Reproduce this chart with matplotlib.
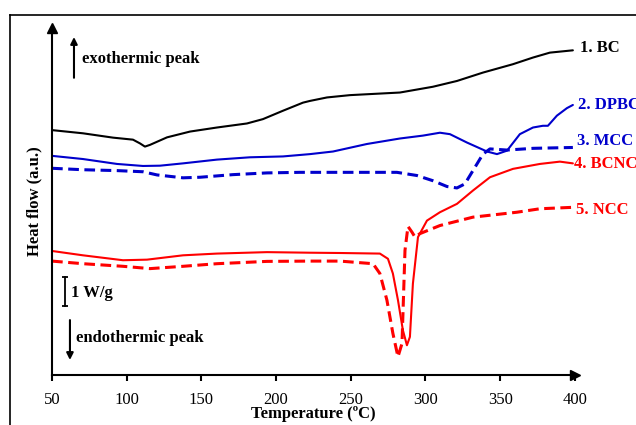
import matplotlib.pyplot as plt
from matplotlib.lines import Line2D

plt.rcParams["font.family"] = ["Liberation Serif", "DejaVu Serif"]

# temperature (degC) and heat flow (W/g, offset per curve)
bc_t = [50, 70.7, 90.8, 104.2, 108.9, 112.2, 115.6, 127.0, 142.4, 160.4, 180.5, 191.2, 204.6,
        218.0, 222.7, 234.1, 249.5, 282.9, 305.0, 321.1, 338.5, 358.6, 372.0, 383.3, 398.7]
bc_q = [8.47, 8.36, 8.21, 8.14, 8.01, 7.90, 7.96, 8.22, 8.42, 8.56, 8.70, 8.85, 9.14,
        9.42, 9.48, 9.60, 9.68, 9.77, 9.97, 10.17, 10.46, 10.75, 10.98, 11.15, 11.23]

dpbc_t = [50, 70.7, 93.5, 110.9, 122.3, 137.7, 160.4, 182.5, 204.6, 222.7, 238.1, 260.8, 282.9,
          298.3, 309.7, 316.4, 327.8, 341.2, 347.9, 354.6, 363.2, 372.0, 378.6, 382.0, 388.0,
          394.7, 398.7]
dpbc_q = [7.58, 7.47, 7.30, 7.23, 7.24, 7.32, 7.45, 7.53, 7.56, 7.64, 7.73, 7.99, 8.18,
          8.28, 8.38, 8.33, 8.04, 7.73, 7.64, 7.76, 8.33, 8.56, 8.62, 8.62, 8.97,
          9.23, 9.34]

mcc_t = [50, 70.7, 93.5, 110.9, 120.3, 137.7, 149.1, 171.1, 193.9, 216.0, 249.5, 280.9, 294.3,
         305.0, 314.4, 321.1, 326.4, 331.8, 338.5, 343.2, 354.6, 372.0, 398.7]
mcc_q = [7.15, 7.10, 7.07, 7.03, 6.92, 6.82, 6.84, 6.93, 6.99, 7.01, 7.01, 7.01, 6.90,
         6.72, 6.52, 6.47, 6.61, 7.07, 7.64, 7.82, 7.78, 7.84, 7.87]

bcnc_t = [50, 70.7, 97.5, 113.6, 137.7, 160.4, 193.9, 222.7, 242.8, 269.5, 274.9, 278.2, 281.6,
          284.9, 287.6, 289.6, 291.6, 295.0, 301.0, 309.7, 321.1, 331.8, 343.2, 358.6, 376.6,
          390.0, 398.7]
bcnc_q = [4.29, 4.14, 3.97, 3.99, 4.14, 4.20, 4.25, 4.23, 4.22, 4.20, 4.02, 3.51, 2.59,
          1.55, 1.03, 1.32, 3.16, 4.77, 5.34, 5.63, 5.92, 6.38, 6.84, 7.13, 7.30,
          7.38, 7.32]

ncc_t = [50, 70.7, 97.5, 115.6, 137.7, 160.4, 193.9, 222.7, 242.8, 264.9, 269.5, 274.2, 278.2,
         281.6, 284.3, 286.3, 288.3, 291.0, 293.0, 296.3, 309.7, 331.8, 361.2, 376.6, 398.7]
ncc_q = [3.94, 3.85, 3.76, 3.68, 3.76, 3.85, 3.93, 3.94, 3.94, 3.85, 3.51, 2.59, 1.44,
         0.63, 1.09, 4.31, 5.14, 4.94, 4.77, 4.89, 5.17, 5.46, 5.63, 5.75, 5.80]

labels = ["1. BC", "2. DPBC", "3. MCC", "4. BCNC", "5. NCC"]
xticks = [50, 100, 150, 200, 250, 300, 350, 400]

BLUE = "#0000cc"
RED = "#ff0000"

fig = plt.figure(figsize=(6.36, 4.25), dpi=100)
ax = fig.add_axes([0.0818, 0.1176, 0.822, 0.8164])

solid = dict(lw=1.5, solid_capstyle="round")
dashed = dict(lw=2.2, dashes=(3.5, 1.8))
ax.plot(bc_t, bc_q, color="black", **solid)
ax.plot(dpbc_t, dpbc_q, color=BLUE, **solid)
ax.plot(mcc_t, mcc_q, color=BLUE, **dashed)
ax.plot(bcnc_t, bcnc_q, color=RED, **solid)
ax.plot(ncc_t, ncc_q, color=RED, **dashed)

# curve labels at the right ends (2 and 4 run past the right edge, as in the source)
label_pos = [(403.4, 11.31), (402.0, 9.34), (401.4, 8.10), (399.4, 7.31), (400.7, 5.69)]
label_col = ["black", BLUE, BLUE, RED, RED]
for text, (x, y), c in zip(labels, label_pos, label_col):
    ax.text(x, y, text, color=c, fontsize=12, fontweight="bold",
            ha="left", va="center", clip_on=False)

ax.set_xlim(50, 400)
ax.set_ylim(0, 12)
ax.set_xticks(xticks)
ax.set_yticks([])
ax.tick_params(axis="x", direction="out", length=4, width=1.5, labelsize=12, pad=8)
for side in ("top", "right"):
    ax.spines[side].set_visible(False)
for side in ("left", "bottom"):
    ax.spines[side].set_linewidth(1.5)

# arrowheads on the axes
ax.plot([1], [0], marker=">", ms=7, color="black", transform=ax.transAxes, clip_on=False)
ax.plot([0], [1], marker="^", ms=7, color="black", transform=ax.transAxes, clip_on=False)

ax.set_xlabel("Temperature (ºC)", fontsize=12, fontweight="bold", labelpad=-1)
ax.set_ylabel("Heat flow (a.u.)", fontsize=12, fontweight="bold", labelpad=7)

# exo / endo markers and scale bar
arrow_kw = dict(arrowstyle="-|>", lw=1.5, color="black", mutation_scale=10, shrinkA=0, shrinkB=0)
ax.annotate("", xy=(64.7, 11.69), xytext=(64.7, 10.28), arrowprops=arrow_kw)
ax.text(70.1, 10.93, "exothermic peak", fontsize=12, fontweight="bold", va="center")
ax.annotate("", xy=(62.0, 0.52), xytext=(62.0, 1.90), arrowprops=arrow_kw)
ax.text(66.2, 1.28, "endothermic peak", fontsize=12, fontweight="bold", va="center")
ax.plot([58.7, 58.7], [2.38, 3.38], color="black", lw=1.3, marker="_", ms=5, mew=1.3)
ax.text(62.5, 2.85, "1 W/g", fontsize=12, fontweight="bold", va="center")

# outer frame (left and top edges visible)
fig.add_artist(Line2D([0.0157, 0.0157], [0, 0.9647], color="black", lw=1.2))
fig.add_artist(Line2D([0.0157, 1.0], [0.9647, 0.9647], color="black", lw=1.2))

fig.savefig("out.png", dpi=100)
